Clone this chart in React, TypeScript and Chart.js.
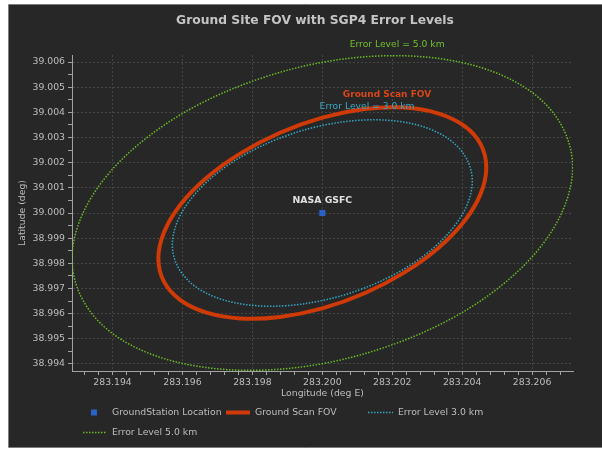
import React, { useEffect, useRef } from "react";
import { Chart, registerables } from "chart.js";

Chart.register(...registerables);

// ---- data -------------------------------------------------------------

const chartTitle = "Ground Site FOV with SGP4 Error Levels";
const xAxisTitle = "Longitude (deg E)";
const yAxisTitle = "Latitude (deg)";

// Ground station (deg E / deg N)
const stationLon = [283.2];
const stationLat = [39.0];
const stationName = "NASA GSFC";

// Ground scan field-of-view outline
const scanLon = [
  283.20469, 283.20453, 283.20406, 283.20331, 283.20234, 283.20121, 283.2, 283.19879,
  283.19766, 283.19669, 283.19594, 283.19547, 283.19531, 283.19547, 283.19594, 283.19669,
  283.19766, 283.19879, 283.2, 283.20121, 283.20234, 283.20331, 283.20406, 283.20453,
];
const scanLat = [
  39.00181, 39.00077, 38.99967, 38.9986, 38.99763, 38.99681, 38.99621, 38.99587,
  38.99581, 38.99604, 38.99654, 38.99727, 38.99819, 38.99923, 39.00033, 39.0014,
  39.00237, 39.00319, 39.00379, 39.00413, 39.00419, 39.00396, 39.00346, 39.00273,
];

// 3.0 km SGP4 error contour
const err3Lon = [
  283.20429, 283.20414, 283.20371, 283.20303, 283.20214, 283.20111, 283.2, 283.19889,
  283.19786, 283.19697, 283.19629, 283.19586, 283.19571, 283.19586, 283.19629, 283.19697,
  283.19786, 283.19889, 283.2, 283.20111, 283.20214, 283.20303, 283.20371, 283.20414,
];
const err3Lat = [
  39.00127, 39.00032, 38.99936, 38.99844, 38.99762, 38.99697, 38.99652, 38.99631,
  38.99635, 38.99664, 38.99716, 38.99788, 38.99873, 38.99968, 39.00064, 39.00156,
  39.00238, 39.00303, 39.00348, 39.00369, 39.00365, 39.00336, 39.00284, 39.00212,
];

// 5.0 km SGP4 error contour
const err5Lon = [
  283.20716, 283.20691, 283.2062, 283.20506, 283.20358, 283.20185, 283.2, 283.19815,
  283.19642, 283.19494, 283.1938, 283.19309, 283.19284, 283.19309, 283.1938, 283.19494,
  283.19642, 283.19815, 283.2, 283.20185, 283.20358, 283.20506, 283.2062, 283.20691,
];
const err5Lat = [
  39.00182, 39.00021, 38.99858, 38.99705, 38.99572, 38.99469, 38.99401, 38.99375,
  38.99391, 38.99448, 38.99543, 38.9967, 38.99818, 38.99979, 39.00142, 39.00295,
  39.00428, 39.00531, 39.00599, 39.00625, 39.00609, 39.00552, 39.00457, 39.0033,
];

const seriesLabels = ["GroundStation Location", "Ground Scan FOV", "Error Level 3.0 km", "Error Level 5.0 km"];

// contour captions and where they sit (deg E / deg N)
const captionText = ["Ground Scan FOV", "Error Level = 3.0 km", "Error Level = 5.0 km"];
const captionLon = [283.20185, 283.20128, 283.20214];
const captionLat = [39.00469, 39.00422, 39.00671];

// axis ranges and tick spacing (degrees)
const lonRange = [283.19284, 283.20717];
const latRange = [38.99372, 39.00628];
const lonMinorStep = 0.0004;
const lonMajorStep = 0.002;
const latMinorStep = 0.0005;
const latMajorStep = 0.001;

// ---- styling ----------------------------------------------------------

const FONT = '"DejaVu Sans", "Liberation Sans", sans-serif';
const PANEL_BG = "#272727";
const PANEL_EDGE = "#7c7c7c";
const TEXT = "#bdbdbd";
const GRID = "#464646";
const AXIS = "#a3a3a3";
const BLUE = "#2862c8";
const RED = "#cf3a06";
const CYAN = "#33a7c2";
const GREEN = "#6bbb25";
const captionColors = ["#d8461a", "#3aa8c6", "#6fc22a"];
const captionFonts = [`bold 9px ${FONT}`, `9.2px ${FONT}`, `9.2px ${FONT}`];

const toPoints = (lon: number[], lat: number[]) => lon.map((x, i) => ({ x, y: lat[i] }));

const onStep = (v: number, step: number) => Math.abs(Math.round(v / step) * step - v) < step * 1e-3;

// ---- plugins ----------------------------------------------------------

const panelPlugin = {
  id: "panelFrame",
  beforeDraw(chart: any) {
    const { ctx, width, height } = chart;
    ctx.save();
    ctx.fillStyle = "#ffffff";
    ctx.fillRect(0, 0, width, height);
    ctx.fillStyle = PANEL_BG;
    ctx.fillRect(9, 4, width - 9, 444);
    ctx.strokeStyle = PANEL_EDGE;
    ctx.lineWidth = 1;
    ctx.beginPath();
    ctx.moveTo(width, 4.5);
    ctx.lineTo(8.5, 4.5);
    ctx.lineTo(8.5, 447.5);
    ctx.lineTo(width, 447.5);
    ctx.stroke();

    ctx.font = `bold 12.3px ${FONT}`;
    ctx.fillStyle = "#c4c4c4";
    ctx.textAlign = "center";
    ctx.textBaseline = "middle";
    ctx.fillText(chartTitle, 315, 20.5);
    ctx.restore();
  },
};

// contours are closed curves: join the last sample back to the first
const closedLoopPlugin = {
  id: "closedContours",
  afterDatasetsUpdate(chart: any) {
    chart.data.datasets.forEach((ds: any, i: number) => {
      if (!ds.showLine) return;
      const el = chart.getDatasetMeta(i).dataset;
      if (!el) return;
      el._loop = true;
      el._fullLoop = true;
      el._segments = undefined;
      el._path = undefined;
      el._pointsUpdated = false;
    });
  },
};

const captionPlugin = {
  id: "contourCaptions",
  afterDatasetsDraw(chart: any) {
    const { ctx } = chart;
    const xs = chart.scales.x;
    const ys = chart.scales.y;
    ctx.save();
    ctx.textAlign = "center";
    ctx.textBaseline = "middle";
    ctx.font = `bold 9.3px ${FONT}`;
    ctx.fillStyle = "#e0e0e0";
    ctx.fillText(stationName, xs.getPixelForValue(stationLon[0]), ys.getPixelForValue(stationLat[0]) - 12);
    captionText.forEach((t, i) => {
      ctx.font = captionFonts[i];
      ctx.fillStyle = captionColors[i];
      ctx.fillText(t, xs.getPixelForValue(captionLon[i]), ys.getPixelForValue(captionLat[i]));
    });
    ctx.restore();
  },
};

const legendPlugin = {
  id: "bottomLegend",
  afterDraw(chart: any) {
    const { ctx } = chart;
    const ds = chart.data.datasets;
    ctx.save();
    ctx.font = `9.3px ${FONT}`;
    ctx.textAlign = "left";
    ctx.textBaseline = "middle";

    const sample = (x0: number, x1: number, y: number, d: any) => {
      ctx.save();
      ctx.strokeStyle = d.borderColor;
      ctx.lineWidth = d.borderWidth;
      ctx.setLineDash(d.borderDash || []);
      ctx.beginPath();
      ctx.moveTo(x0, y);
      ctx.lineTo(x1, y);
      ctx.stroke();
      ctx.restore();
    };

    const r1 = 412.5;
    const r2 = 432.5;
    ctx.fillStyle = ds[0].backgroundColor;
    ctx.fillRect(91, r1 - 3, 6, 6);
    ctx.fillStyle = TEXT;
    ctx.fillText(ds[0].label, 112, r1);
    sample(226, 250, r1, ds[1]);
    ctx.fillText(ds[1].label, 255, r1);
    sample(368, 393, r1, ds[2]);
    ctx.fillText(ds[2].label, 398, r1);
    sample(83, 106, r2, ds[3]);
    ctx.fillText(ds[3].label, 112, r2);
    ctx.restore();
  },
};

// ---- component --------------------------------------------------------

export default function App() {
  const canvasRef = useRef<HTMLCanvasElement | null>(null);

  useEffect(() => {
    const canvas = canvasRef.current;
    if (!canvas) return;

    const chart = new Chart(canvas, {
      type: "scatter",
      data: {
        datasets: [
          {
            label: seriesLabels[0],
            data: toPoints(stationLon, stationLat),
            pointStyle: "rect",
            pointRadius: 4.3,
            pointBorderWidth: 0,
            backgroundColor: BLUE,
            borderColor: BLUE,
            showLine: false,
          },
          {
            label: seriesLabels[1],
            data: toPoints(scanLon, scanLat),
            showLine: true,
            borderColor: RED,
            borderWidth: 4,
            pointRadius: 0,
            tension: 0.34,
          },
          {
            label: seriesLabels[2],
            data: toPoints(err3Lon, err3Lat),
            showLine: true,
            borderColor: CYAN,
            borderWidth: 1.5,
            borderDash: [1.5, 1.5],
            pointRadius: 0,
            tension: 0.34,
          },
          {
            label: seriesLabels[3],
            data: toPoints(err5Lon, err5Lat),
            showLine: true,
            borderColor: GREEN,
            borderWidth: 1.5,
            borderDash: [1.5, 1.5],
            pointRadius: 0,
            tension: 0.34,
          },
        ],
      },
      options: {
        animation: false,
        responsive: false,
        devicePixelRatio: 1,
        layout: { padding: { left: 9, top: 55, right: 29, bottom: 49 } },
        plugins: {
          legend: { display: false },
          title: { display: false },
          tooltip: { enabled: false },
        },
        scales: {
          x: {
            type: "linear",
            min: lonRange[0],
            max: lonRange[1],
            afterFit: (s: any) => {
              s.height = 30;
            },
            ticks: {
              stepSize: lonMinorStep,
              includeBounds: false,
              autoSkip: false,
              maxRotation: 0,
              minRotation: 0,
              padding: 2,
              color: TEXT,
              font: { family: FONT, size: 9.3 },
              callback: (v: any) => (onStep(Number(v), lonMajorStep) ? Number(v).toFixed(3) : ""),
            },
            grid: {
              color: (c: any) => (c.tick && onStep(c.tick.value, lonMajorStep) ? GRID : "rgba(0,0,0,0)"),
              tickColor: AXIS,
              tickLength: 4,
              tickWidth: 1,
              tickBorderDash: [],
            },
            border: { display: true, color: AXIS, width: 1, dash: [2, 2] },
            title: {
              display: true,
              text: xAxisTitle,
              color: TEXT,
              font: { family: FONT, size: 9.3 },
              padding: { top: 0, bottom: 2 },
            },
          },
          y: {
            type: "linear",
            min: latRange[0],
            max: latRange[1],
            afterFit: (s: any) => {
              s.width = 63;
            },
            ticks: {
              stepSize: latMinorStep,
              includeBounds: false,
              autoSkip: false,
              padding: 3,
              color: TEXT,
              font: { family: FONT, size: 9.3 },
              callback: (v: any) => (onStep(Number(v), latMajorStep) ? Number(v).toFixed(3) : ""),
            },
            grid: {
              color: (c: any) => (c.tick && onStep(c.tick.value, latMajorStep) ? GRID : "rgba(0,0,0,0)"),
              tickColor: AXIS,
              tickLength: 4,
              tickWidth: 1,
              tickBorderDash: [],
            },
            border: { display: true, color: AXIS, width: 1, dash: [2, 2] },
            title: {
              display: true,
              text: yAxisTitle,
              color: TEXT,
              font: { family: FONT, size: 9.3 },
              padding: { top: 8, bottom: 0 },
            },
          },
        },
      },
      plugins: [panelPlugin, closedLoopPlugin, captionPlugin, legendPlugin],
    } as any);

    return () => chart.destroy();
  }, []);

  return (
    <div style={{ position: "fixed", left: 0, top: 0, width: 602, height: 450 }}>
      <canvas ref={canvasRef} width={602} height={450} style={{ width: 602, height: 450, display: "block" }} />
    </div>
  );
}
